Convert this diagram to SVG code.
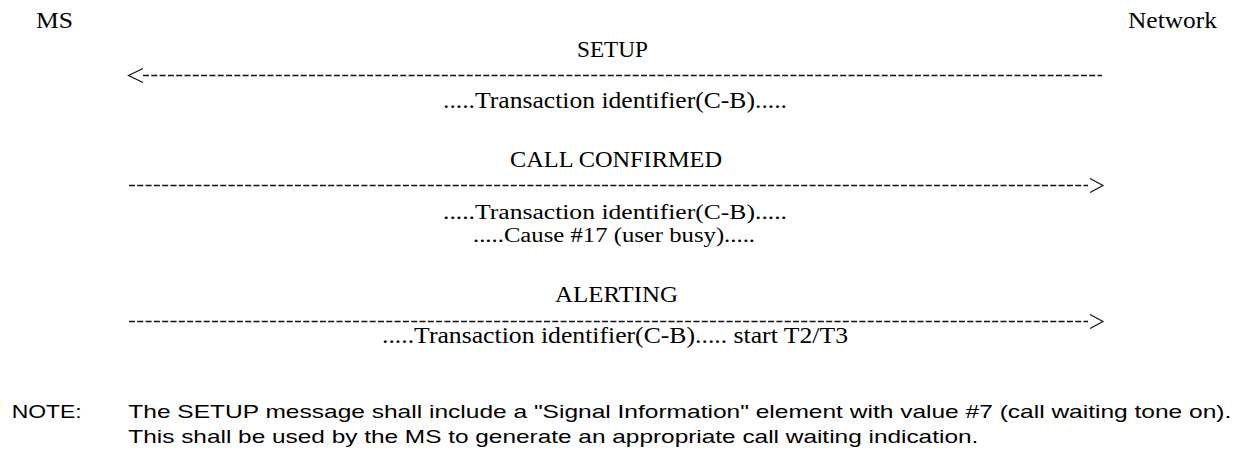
<svg xmlns="http://www.w3.org/2000/svg" width="1241" height="450" viewBox="0 0 1241 450">
  <style>
    .t { font-family: "Liberation Serif", "Times New Roman", serif; font-size: 23px; fill: #000; }
    .s { font-size: 20px; }
    .n { font-family: "Liberation Sans", Arial, sans-serif; font-size: 18.5px; fill: #000; }
    .dash { stroke: #111; stroke-width: 1.4; stroke-dasharray: 6 2.3; fill: none; }
    .head { stroke: #111; stroke-width: 1.2; fill: none; }
  </style>
  <rect width="1241" height="450" fill="#fff"/>

  <g id="ms">
    <text class="t" x="36" y="28" textLength="37" lengthAdjust="spacingAndGlyphs">MS</text>
  </g>
  <g id="network">
    <text class="t" x="1128" y="28" textLength="89" lengthAdjust="spacingAndGlyphs">Network</text>
  </g>

  <g id="connectors">
    <g id="msg-setup">
      <line class="dash" x1="143" y1="75.5" x2="1102" y2="75.5"/>
      <polyline class="head" points="143,68.5 128.5,75.5 143,82.5"/>
    </g>
    <g id="msg-call-confirmed">
      <line class="dash" x1="129" y1="185.5" x2="1088" y2="185.5"/>
      <polyline class="head" points="1090,178.5 1103,185.5 1090,192.5"/>
    </g>
    <g id="msg-alerting">
      <line class="dash" x1="129" y1="321.5" x2="1088" y2="321.5"/>
      <polyline class="head" points="1090,314.5 1103,321.5 1090,328.5"/>
    </g>
  </g>

  <g id="label-setup">
    <text class="t" x="577" y="57" textLength="71" lengthAdjust="spacingAndGlyphs">SETUP</text>
    <text class="t" x="443" y="108" textLength="344" lengthAdjust="spacingAndGlyphs">.....Transaction identifier(C-B).....</text>
  </g>
  <g id="label-call-confirmed">
    <text class="t" x="510" y="166.5" textLength="212" lengthAdjust="spacingAndGlyphs">CALL CONFIRMED</text>
    <text class="t s" x="443" y="219" textLength="344" lengthAdjust="spacingAndGlyphs">.....Transaction identifier(C-B).....</text>
    <text class="t s" x="473" y="241.5" textLength="282" lengthAdjust="spacingAndGlyphs">.....Cause #17 (user busy).....</text>
  </g>
  <g id="label-alerting">
    <text class="t" x="555" y="301.5" textLength="123" lengthAdjust="spacingAndGlyphs">ALERTING</text>
    <text class="t" x="382" y="343" textLength="466" lengthAdjust="spacingAndGlyphs">.....Transaction identifier(C-B)..... start T2/T3</text>
  </g>

  <g id="note">
    <text class="n" x="11.7" y="418" textLength="70" lengthAdjust="spacingAndGlyphs">NOTE:</text>
    <text class="n" x="128.3" y="418" textLength="1103" lengthAdjust="spacingAndGlyphs">The SETUP message shall include a "Signal Information" element with value #7 (call waiting tone on).</text>
    <text class="n" x="128.3" y="443" textLength="850" lengthAdjust="spacingAndGlyphs">This shall be used by the MS to generate an appropriate call waiting indication.</text>
  </g>
</svg>
